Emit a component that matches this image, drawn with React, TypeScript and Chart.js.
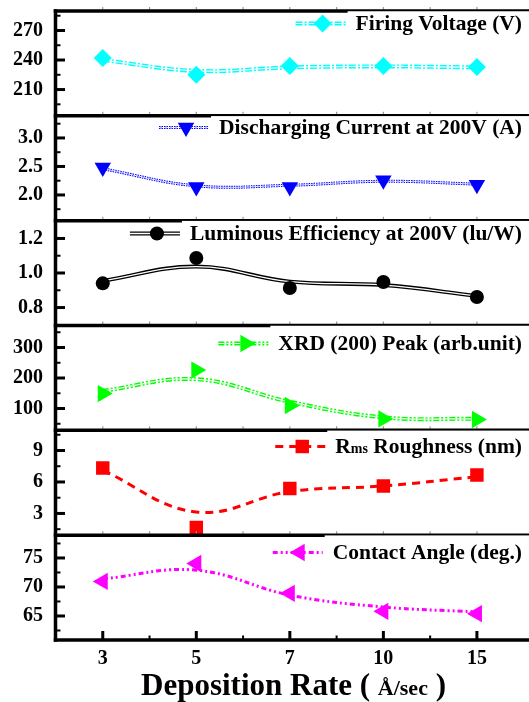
import React, { useEffect, useRef } from 'react';
import { Chart, registerables } from 'chart.js';

Chart.register(...registerables);

const FONT = "'Liberation Serif', 'Times New Roman', serif";

// ---------- data ----------
const categories = ['3', '5', '7', '10', '15'];

const firingVoltage = [242, 225, 234, 234, 233];
const firingVoltageFit = [240, 229, 232.5, 233.5, 232.5];
const firingTicks = [210, 240, 270];
const firingMinor = [195, 225, 255, 285];

const dischargeCurrent = [2.48, 2.14, 2.14, 2.26, 2.18];
const dischargeCurrentFit = [2.46, 2.16, 2.17, 2.24, 2.19];
const dischargeTicks = [2.0, 2.5, 3.0];
const dischargeMinor = [1.75, 2.25, 2.75, 3.25];

const luminousEfficiency = [0.94, 1.087, 0.913, 0.948, 0.861];
const luminousEfficiencyFit = [0.955, 1.037, 0.95, 0.93, 0.867];
const luminousTicks = [0.8, 1.0, 1.2];
const luminousMinor = [0.9, 1.1];

const xrdPeak = [149, 226, 110, 66, 64];
const xrdPeakFit = [158, 196, 122, 71, 66];
const xrdTicks = [100, 200, 300];
const xrdMinor = [50, 150, 250, 350];

const rmsRoughness = [7.33, 1.67, 5.38, 5.62, 6.67];
const rmsRoughnessFit = [7.1, 3.14, 5.08, 5.62, 6.5];
const rmsTicks = [3, 6, 9];
const rmsMinor = [1.5, 4.5, 7.5, 10.5];

const contactAngle = [70.95, 74.05, 68.9, 65.8, 65.4];
const contactAngleFit = [71.4, 72.9, 68.6, 66.55, 65.7];
const contactTicks = [65, 70, 75];
const contactMinor = [62.5, 67.5, 72.5, 77.5];

const xTitleMain = 'Deposition Rate (';
const xTitleUnit = 'Å/sec';
const xTitleEnd = ')';

// ---------- panel styles ----------
type Panel = {
  id: string;
  name: string;
  values: number[];
  fit: number[];
  ticks: number[];
  minor: number[];
  min: number;
  max: number;
  digits: number;
  color: string;
  marker: string;
  rotation: number;
  radius: number;
  dash: number[];
  width: number;
  inner: number;
  baseline: number;
};

const panels: Panel[] = [
  { id: 'y1', name: 'Firing Voltage (V)', values: firingVoltage, fit: firingVoltageFit, ticks: firingTicks, minor: firingMinor,
    min: 183.3, max: 289.8, digits: 0, color: '#00FFFF', marker: 'rectRot', rotation: 0, radius: 9,
    dash: [7, 2, 2, 2], width: 4, inner: 1.2, baseline: 30 },
  { id: 'y2', name: 'Discharging Current at 200V (A)', values: dischargeCurrent, fit: dischargeCurrentFit, ticks: dischargeTicks, minor: dischargeMinor,
    min: 1.549, max: 3.388, digits: 1, color: '#0000FF', marker: 'triangle', rotation: 180, radius: 9.5,
    dash: [1.5, 1], width: 3, inner: 1, baseline: 134 },
  { id: 'y3', name: 'Luminous Efficiency at 200V (lu/W)', values: luminousEfficiency, fit: luminousEfficiencyFit, ticks: luminousTicks, minor: luminousMinor,
    min: 0.696, max: 1.303, digits: 1, color: '#000000', marker: 'circle', rotation: 0, radius: 7,
    dash: [], width: 4, inner: 1.3, baseline: 240 },
  { id: 'y4', name: 'XRD (200) Peak (arb.unit)', values: xrdPeak, fit: xrdPeakFit, ticks: xrdTicks, minor: xrdMinor,
    min: 28.5, max: 372.1, digits: 0, color: '#00FF00', marker: 'triangle', rotation: 90, radius: 10,
    dash: [6, 2, 2, 2, 2, 2], width: 4, inner: 1.2, baseline: 350 },
  { id: 'y5', name: 'Rms Roughness (nm)', values: rmsRoughness, fit: rmsRoughnessFit, ticks: rmsTicks, minor: rmsMinor,
    min: 0.93, max: 10.92, digits: 0, color: '#FF0000', marker: 'rect', rotation: 0, radius: 9.5,
    dash: [8, 6], width: 3, inner: 0, baseline: 453 },
  { id: 'y6', name: 'Contact Angle (deg.)', values: contactAngle, fit: contactAngleFit, ticks: contactTicks, minor: contactMinor,
    min: 60.86, max: 78.93, digits: 0, color: '#FF00FF', marker: 'triangle', rotation: 270, radius: 10,
    dash: [5, 3, 2, 3, 2, 3], width: 3, inner: 0, baseline: 559 },
];

const toXY = (arr: number[]) => arr.map((v, i) => ({ x: i, y: v }));

// ---------- drawing helpers ----------
function line(ctx: CanvasRenderingContext2D, x0: number, y0: number, x1: number, y1: number) {
  ctx.beginPath();
  ctx.moveTo(x0, y0);
  ctx.lineTo(x1, y1);
  ctx.stroke();
}

function drawMarker(ctx: CanvasRenderingContext2D, p: Panel, x: number, y: number) {
  const r = p.radius;
  ctx.fillStyle = p.color;
  ctx.beginPath();
  if (p.marker === 'circle') {
    ctx.arc(x, y, r, 0, Math.PI * 2);
  } else if (p.marker === 'rect') {
    const s = r * Math.SQRT1_2;
    ctx.rect(x - s, y - s, 2 * s, 2 * s);
  } else if (p.marker === 'rectRot') {
    ctx.moveTo(x, y - r);
    ctx.lineTo(x + r, y);
    ctx.lineTo(x, y + r);
    ctx.lineTo(x - r, y);
    ctx.closePath();
  } else {
    const rot = (p.rotation * Math.PI) / 180;
    for (let k = 0; k < 3; k++) {
      const a = rot - Math.PI / 2 + (k * 2 * Math.PI) / 3;
      const px = x + r * Math.cos(a);
      const py = y + r * Math.sin(a);
      if (k === 0) ctx.moveTo(px, py);
      else ctx.lineTo(px, py);
    }
    ctx.closePath();
  }
  ctx.fill();
}

function drawLegend(ctx: CanvasRenderingContext2D, p: Panel, top: number, right: number) {
  const big = `bold 21.5px ${FONT}`;
  const small = `bold 14px ${FONT}`;
  let width = 0;
  let parts: { t: string; f: string }[] = [];
  if (p.id === 'y5') {
    parts = [
      { t: 'R', f: big },
      { t: 'ms', f: small },
      { t: ' Roughness (nm)', f: big },
    ];
  } else {
    parts = [{ t: p.name, f: big }];
  }
  parts.forEach((q) => {
    ctx.font = q.f;
    width += ctx.measureText(q.t).width;
  });
  const textStart = 522 - width;

  // legend box covers part of the top border
  ctx.fillStyle = '#fff';
  ctx.fillRect(textStart - 8, top + 0.25, right - (textStart - 8), 2.5);

  const yc = p.baseline - 6.5;
  const x0 = textStart - 60;
  const x1 = textStart - 10;
  ctx.setLineDash(p.dash);
  ctx.strokeStyle = p.color;
  ctx.lineWidth = p.width;
  line(ctx, x0, yc, x1, yc);
  if (p.inner > 0) {
    ctx.strokeStyle = '#fff';
    ctx.lineWidth = p.inner;
    line(ctx, x0, yc, x1, yc);
  }
  ctx.setLineDash([]);
  drawMarker(ctx, p, textStart - 33, yc);

  ctx.fillStyle = '#000';
  ctx.textAlign = 'left';
  ctx.textBaseline = 'alphabetic';
  let x = textStart;
  parts.forEach((q) => {
    ctx.font = q.f;
    ctx.fillText(q.t, x, p.baseline);
    x += ctx.measureText(q.t).width;
  });
}

const decorPlugin = {
  id: 'decor',
  afterDraw(chart: any) {
    const ctx: CanvasRenderingContext2D = chart.ctx;
    const xs = chart.scales.x;
    const left = chart.chartArea.left;
    const right = chart.width;
    ctx.save();
    ctx.lineCap = 'butt';

    const bounds: number[] = panels.map((p) => chart.scales[p.id].top);
    const bottom = chart.scales[panels[panels.length - 1].id].bottom;
    bounds.push(bottom);

    const xMajor = categories.map((_, i) => xs.getPixelForValue(i));
    const xMinor = categories.slice(0, -1).map((_, i) => xs.getPixelForValue(i + 0.5));

    // faint outer ticks on top axes
    ctx.strokeStyle = '#999';
    ctx.lineWidth = 1.2;
    bounds.slice(0, -1).forEach((b) => {
      [...xMajor, ...xMinor].forEach((x) => line(ctx, x, b - 4, x, b - 1.5));
    });

    // frame lines
    ctx.strokeStyle = '#000';
    ctx.lineWidth = 3.5;
    bounds.forEach((b) => line(ctx, left - 2.25, b, right, b));
    line(ctx, left - 0.5, bounds[0] - 1.75, left - 0.5, bottom + 1.75);

    // y ticks (inward)
    panels.forEach((p) => {
      const s = chart.scales[p.id];
      ctx.lineWidth = 3;
      p.ticks.forEach((v) => {
        const y = s.getPixelForValue(v);
        line(ctx, left, y, left + 9, y);
      });
      ctx.lineWidth = 2;
      p.minor.forEach((v) => {
        const y = s.getPixelForValue(v);
        line(ctx, left, y, left + 4.5, y);
      });
    });

    // bottom x ticks (inward)
    ctx.lineWidth = 3;
    xMajor.forEach((x) => line(ctx, x, bottom, x, bottom - 9));
    ctx.lineWidth = 2;
    xMinor.forEach((x) => line(ctx, x, bottom, x, bottom - 4.5));

    // legends
    panels.forEach((p) => drawLegend(ctx, p, chart.scales[p.id].top, right));

    // x axis title
    const fMain = `bold 31px ${FONT}`;
    const fUnit = `bold 22px ${FONT}`;
    const segs = [
      { t: xTitleMain + ' ', f: fMain },
      { t: xTitleUnit, f: fUnit },
      { t: ' ' + xTitleEnd, f: fMain },
    ];
    let tw = 0;
    segs.forEach((s) => {
      ctx.font = s.f;
      tw += ctx.measureText(s.t).width;
    });
    let tx = 293.5 - tw / 2;
    ctx.fillStyle = '#000';
    ctx.textAlign = 'left';
    ctx.textBaseline = 'alphabetic';
    segs.forEach((s) => {
      ctx.font = s.f;
      ctx.fillText(s.t, tx, 695);
      tx += ctx.measureText(s.t).width;
    });

    ctx.restore();
  },
};

function buildConfig(): any {
  const datasets: any[] = [];
  panels.forEach((p) => {
    datasets.push({
      label: p.name,
      data: toXY(p.values),
      xAxisID: 'x',
      yAxisID: p.id,
      showLine: false,
      pointStyle: p.marker,
      pointRotation: p.rotation,
      pointRadius: p.radius,
      pointBackgroundColor: p.color,
      pointBorderColor: p.color,
      pointBorderWidth: 0,
      order: 0,
    });
    if (p.inner > 0) {
      datasets.push({
        label: p.name + ' fit inner',
        data: toXY(p.fit),
        xAxisID: 'x',
        yAxisID: p.id,
        borderColor: '#ffffff',
        borderWidth: p.inner,
        borderDash: p.dash,
        pointRadius: 0,
        tension: 0.4,
        fill: false,
        order: 1,
      });
    }
    datasets.push({
      label: p.name + ' fit',
      data: toXY(p.fit),
      xAxisID: 'x',
      yAxisID: p.id,
      borderColor: p.color,
      borderWidth: p.width,
      borderDash: p.dash,
      pointRadius: 0,
      tension: 0.4,
      fill: false,
      order: 2,
    });
  });

  const scales: any = {
    x: {
      type: 'linear',
      position: 'bottom',
      min: -0.5,
      max: 4.45,
      grid: { display: false, drawTicks: false },
      border: { display: false },
      afterBuildTicks: (s: any) => {
        s.ticks = categories.map((_, i) => ({ value: i }));
      },
      afterFit: (s: any) => {
        s.height = 62;
        s.paddingLeft = 0;
        s.paddingRight = 0;
      },
      ticks: {
        callback: (v: number) => categories[v] ?? '',
        font: { family: FONT, size: 20, weight: 'bold' },
        color: '#000',
        padding: 7,
        maxRotation: 0,
        autoSkip: false,
      },
    },
  };
  panels.forEach((p, i) => {
    scales[p.id] = {
      type: 'linear',
      position: 'left',
      stack: 'panels',
      stackWeight: 1,
      weight: panels.length - i,
      min: p.min,
      max: p.max,
      grid: { display: false, drawTicks: false },
      border: { display: false },
      afterBuildTicks: (s: any) => {
        s.ticks = p.ticks.map((v) => ({ value: v }));
      },
      afterFit: (s: any) => {
        s.width = 56;
        s.paddingTop = 0;
        s.paddingBottom = 0;
      },
      ticks: {
        callback: (v: number) => Number(v).toFixed(p.digits),
        font: { family: FONT, size: 20, weight: 'bold' },
        color: '#000',
        padding: 13,
      },
    };
  });

  return {
    type: 'line',
    data: { datasets },
    options: {
      responsive: false,
      maintainAspectRatio: false,
      animation: false,
      devicePixelRatio: 1,
      layout: { padding: { top: 11, left: 0, right: 0, bottom: 0 } },
      plugins: { legend: { display: false }, tooltip: { enabled: false }, title: { display: false } },
      scales,
    },
    plugins: [decorPlugin],
  };
}

export default function App() {
  const ref = useRef<HTMLCanvasElement>(null);
  useEffect(() => {
    const canvas = ref.current;
    if (!canvas) return;
    const chart = new Chart(canvas, buildConfig());
    return () => chart.destroy();
  }, []);
  return (
    <div style={{ position: 'absolute', left: 0, top: 0, width: 529, height: 702, background: '#fff' }}>
      <canvas ref={ref} width={529} height={702} style={{ display: 'block', width: 529, height: 702 }} />
    </div>
  );
}
